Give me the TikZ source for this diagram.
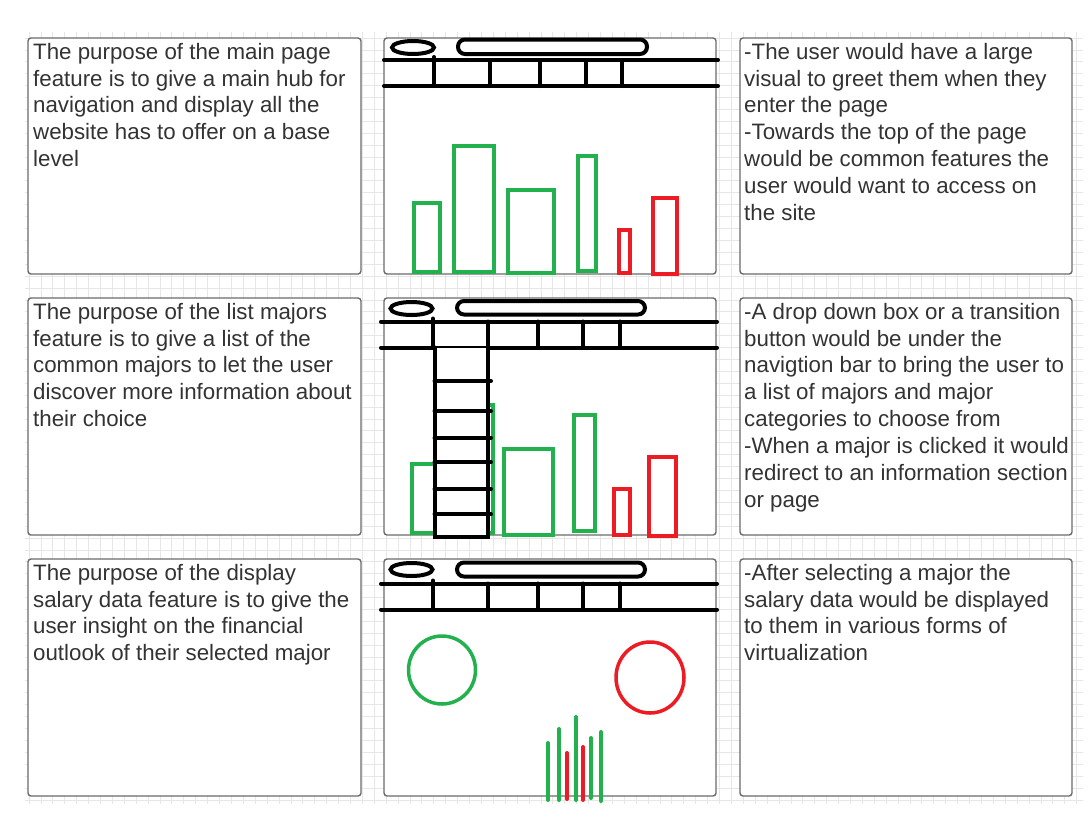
\documentclass[tikz,border=0pt]{standalone}
\usepackage{fontspec}
\setmainfont{Liberation Sans}
\definecolor{gridc}{HTML}{E6E6E6}
\definecolor{framec}{HTML}{6B6B6B}
\definecolor{txtc}{HTML}{333333}
\definecolor{sgreen}{HTML}{22B14C}
\definecolor{sred}{HTML}{ED1C24}
\begin{document}
\begin{tikzpicture}[x=1pt,y=-1pt,
  panel/.style={draw=framec, line width=1.4pt, rounded corners=3pt, fill=white},
  desc/.style={anchor=north west, inner sep=0pt, align=left, text=txtc, font=\fontsize{22.3}{26.9}\selectfont},
  ink/.style={draw=black, line width=4pt, line cap=round},
  gbar/.style={draw=sgreen, line width=4pt},
  rbar/.style={draw=sred, line width=4pt},
  stick/.style={line width=4pt, line cap=round}]
\useasboundingbox[fill=white] (0,0) rectangle (1089,828);
% grid
\foreach \k in {0,...,88} \draw[gridc, line width=0.8pt] ({29+11.905*\k},32) -- ({29+11.905*\k},804);
\foreach \k in {0,...,64} \draw[gridc, line width=0.8pt] (25,{38+11.905*\k}) -- (1083,{38+11.905*\k});
% panels
\foreach \t/\b in {38/274, 298/535, 559/796} {
  \draw[panel] (28,\t) rectangle (361,\b);
  \draw[panel] (384,\t) rectangle (716,\b);
  \draw[panel] (740,\t) rectangle (1072,\b);
}
% texts
\node[desc] (t1l) at (33,42.8) {The purpose of the main page\\feature is to give a main hub for\\navigation and display all the\\website has to offer on a base\\level};
\node[desc] (t1r) at (744,42.8) {-The user would have a large\\visual to greet them when they\\enter the page\\-Towards the top of the page\\would be common features the\\user would want to access on\\the site};
\node[desc] (t2l) at (33,302.8) {The purpose of the list majors\\feature is to give a list of the\\common majors to let the user\\discover more information about\\their choice};
\node[desc] (t2r) at (744,302.8) {-A drop down box or a transition\\button would be under the\\navigtion bar to bring the user to\\a list of majors and major\\categories to choose from\\-When a major is clicked it would\\redirect to an information section\\or page};
\node[desc] (t3l) at (33,563.8) {The purpose of the display\\salary data feature is to give the\\user insight on the financial\\outlook of their selected major};
\node[desc] (t3r) at (744,563.8) {-After selecting a major the\\salary data would be displayed\\to them in various forms of\\virtualization};
% ---- row 1 sketch
\draw[ink] (413,47.5) ellipse [x radius=21, y radius=6.5];
\draw[ink, rounded corners=7pt] (458,39.5) rectangle (647,54);
\draw[ink] (384,60) -- (718,60);
\draw[ink] (384,86) -- (718,86);
\draw[ink] (434,57) -- (434,86);
\foreach \x in {490,540,586,622} \draw[ink] (\x,60) -- (\x,86);
\draw[gbar] (413.5,202.5) rectangle (439.5,271.5);
\draw[gbar] (453.5,145.5) rectangle (494,271.5);
\draw[gbar] (507.7,190.3) rectangle (554,273);
\draw[gbar] (577.7,156) rectangle (596.3,270.7);
\draw[rbar] (618.7,230.3) rectangle (630.3,273);
\draw[rbar] (652.7,198) rectangle (677,274);
% ---- row 2 sketch
\draw[ink] (411.5,308.5) ellipse [x radius=21, y radius=6.5];
\draw[ink, rounded corners=7pt] (457,301) rectangle (645,314.5);
\draw[ink] (381,321.5) -- (717,321.5);
\draw[ink] (381,347.5) -- (717,347.5);
\draw[ink] (433,318.5) -- (433,347.5);
\foreach \x in {488,538,583,620} \draw[ink] (\x,321.5) -- (\x,347.5);
\draw[gbar] (412,463.7) rectangle (439,533);
\draw[gbar] (452,405.3) rectangle (493,533);
\draw[gbar] (503.7,449.3) rectangle (553,534.7);
\draw[gbar] (573.7,415.3) rectangle (595.3,530.7);
\draw[rbar] (614.3,489.3) rectangle (629.7,534.7);
\draw[rbar] (648.7,457) rectangle (676.3,536.3);
\fill[white] (434.5,347.5) rectangle (488.3,537);
\draw[ink] (434.5,347.5) -- (434.5,537) -- (488.3,537) -- (488.3,347.5);
\foreach \y in {381,411,437.7,462.3,489.3,514.3} \draw[ink] (434.5,\y) -- (491,\y);
% ---- row 3 sketch
\draw[ink] (411.5,569.5) ellipse [x radius=21, y radius=6.5];
\draw[ink, rounded corners=7pt] (457,562.5) rectangle (645,576.5);
\draw[ink] (381,583.5) -- (717,583.5);
\draw[ink] (381,609.5) -- (717,609.5);
\draw[ink] (433,580.5) -- (433,609.5);
\foreach \x in {488,538,583,620} \draw[ink] (\x,583.5) -- (\x,609.5);
\draw[sgreen, line width=3.5pt] (442,670) ellipse [x radius=33.5, y radius=34];
\draw[sred, line width=3.5pt] (650,677.5) ellipse [x radius=34, y radius=35.5];
\draw[stick, sgreen] (548,743) -- (548,800);
\draw[stick, sgreen] (559,729) -- (559,800);
\draw[stick, sred] (567,753) -- (567,799);
\draw[stick, sgreen] (576,717) -- (576,800);
\draw[stick, sred] (583,747) -- (583,800);
\draw[stick, sgreen] (591,738) -- (591,798);
\draw[stick, sgreen] (601,732) -- (601,801);
\end{tikzpicture}
\end{document}
